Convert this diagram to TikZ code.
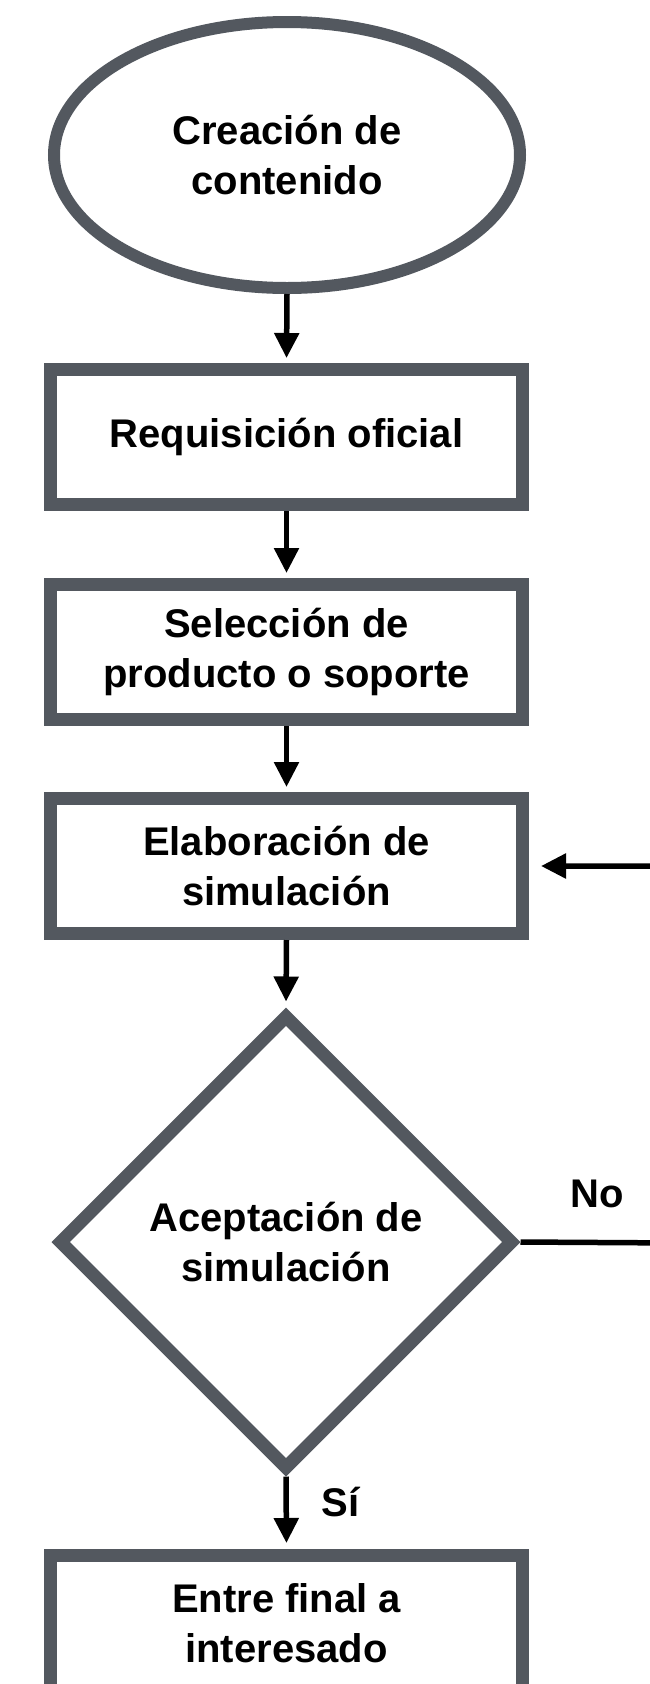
\documentclass[tikz,border=0pt]{standalone}
\usepackage{fontspec}
\setmainfont{Liberation Sans}
\usetikzlibrary{shapes,arrows.meta}
\definecolor{borde}{RGB}{83,88,95}
\tikzset{
	texto/.style={font=\bfseries\fontsize{40}{49.5}\selectfont, align=center, text=black},
	caja/.style={texto, draw=borde, line width=13pt, rectangle, minimum width=472pt, minimum height=135pt, inner sep=0pt},
	inicio/.style={texto, draw=borde, line width=12pt, ellipse, minimum width=466pt, minimum height=266pt, inner sep=0pt},
	decision/.style={texto, draw=borde, line width=13pt, diamond, minimum width=456pt, minimum height=456pt, inner sep=0pt},
	flecha/.style={line width=5.5pt, -{Triangle[width=24pt,length=25pt]}, shorten >=5pt}
}
\begin{document}
\begin{tikzpicture}[x=1pt,y=-1pt]
			\useasboundingbox (0,0) rectangle (650,1684);
			% Nodes of the flow
			\node[inicio] (crea) at (287,155) {Creación de\\contenido};
			\node[caja] (requi) at (286.5,437) {Requisición oficial};
			\node[caja] (selec) at (286.5,652) {Selección de\\producto o soporte};
			\node[caja] (elab) at (286.5,866) {Elaboración de\\simulación};
			\node[decision] (acep) at (286,1242) {Aceptación de\\simulación};
			\node[caja] (entre) at (286.5,1623) {Entre final a\\interesado};
			% Return path (off the page on the right)
			\coordinate (vuelta) at (680,1243);
			% Arrows
			\draw[flecha] (crea.south) -- (requi.north);
			\draw[flecha] (requi.south) -- (selec.north);
			\draw[flecha] (selec.south) -- (elab.north);
			\draw[flecha, shorten >=6pt] (elab.south) -- (acep.north);
			\draw[flecha, shorten >=6pt] (acep.south) -- (entre.north);
			\draw[flecha, shorten >=12pt] (acep.east) -- (vuelta) |- (elab.east);
			% Labels
			\node[texto, anchor=base] (etiqNo) at (597,1207) {No};
			\node[texto, anchor=base] (etiqSi) at (340.5,1516) {Sí};
\end{tikzpicture}
\end{document}
